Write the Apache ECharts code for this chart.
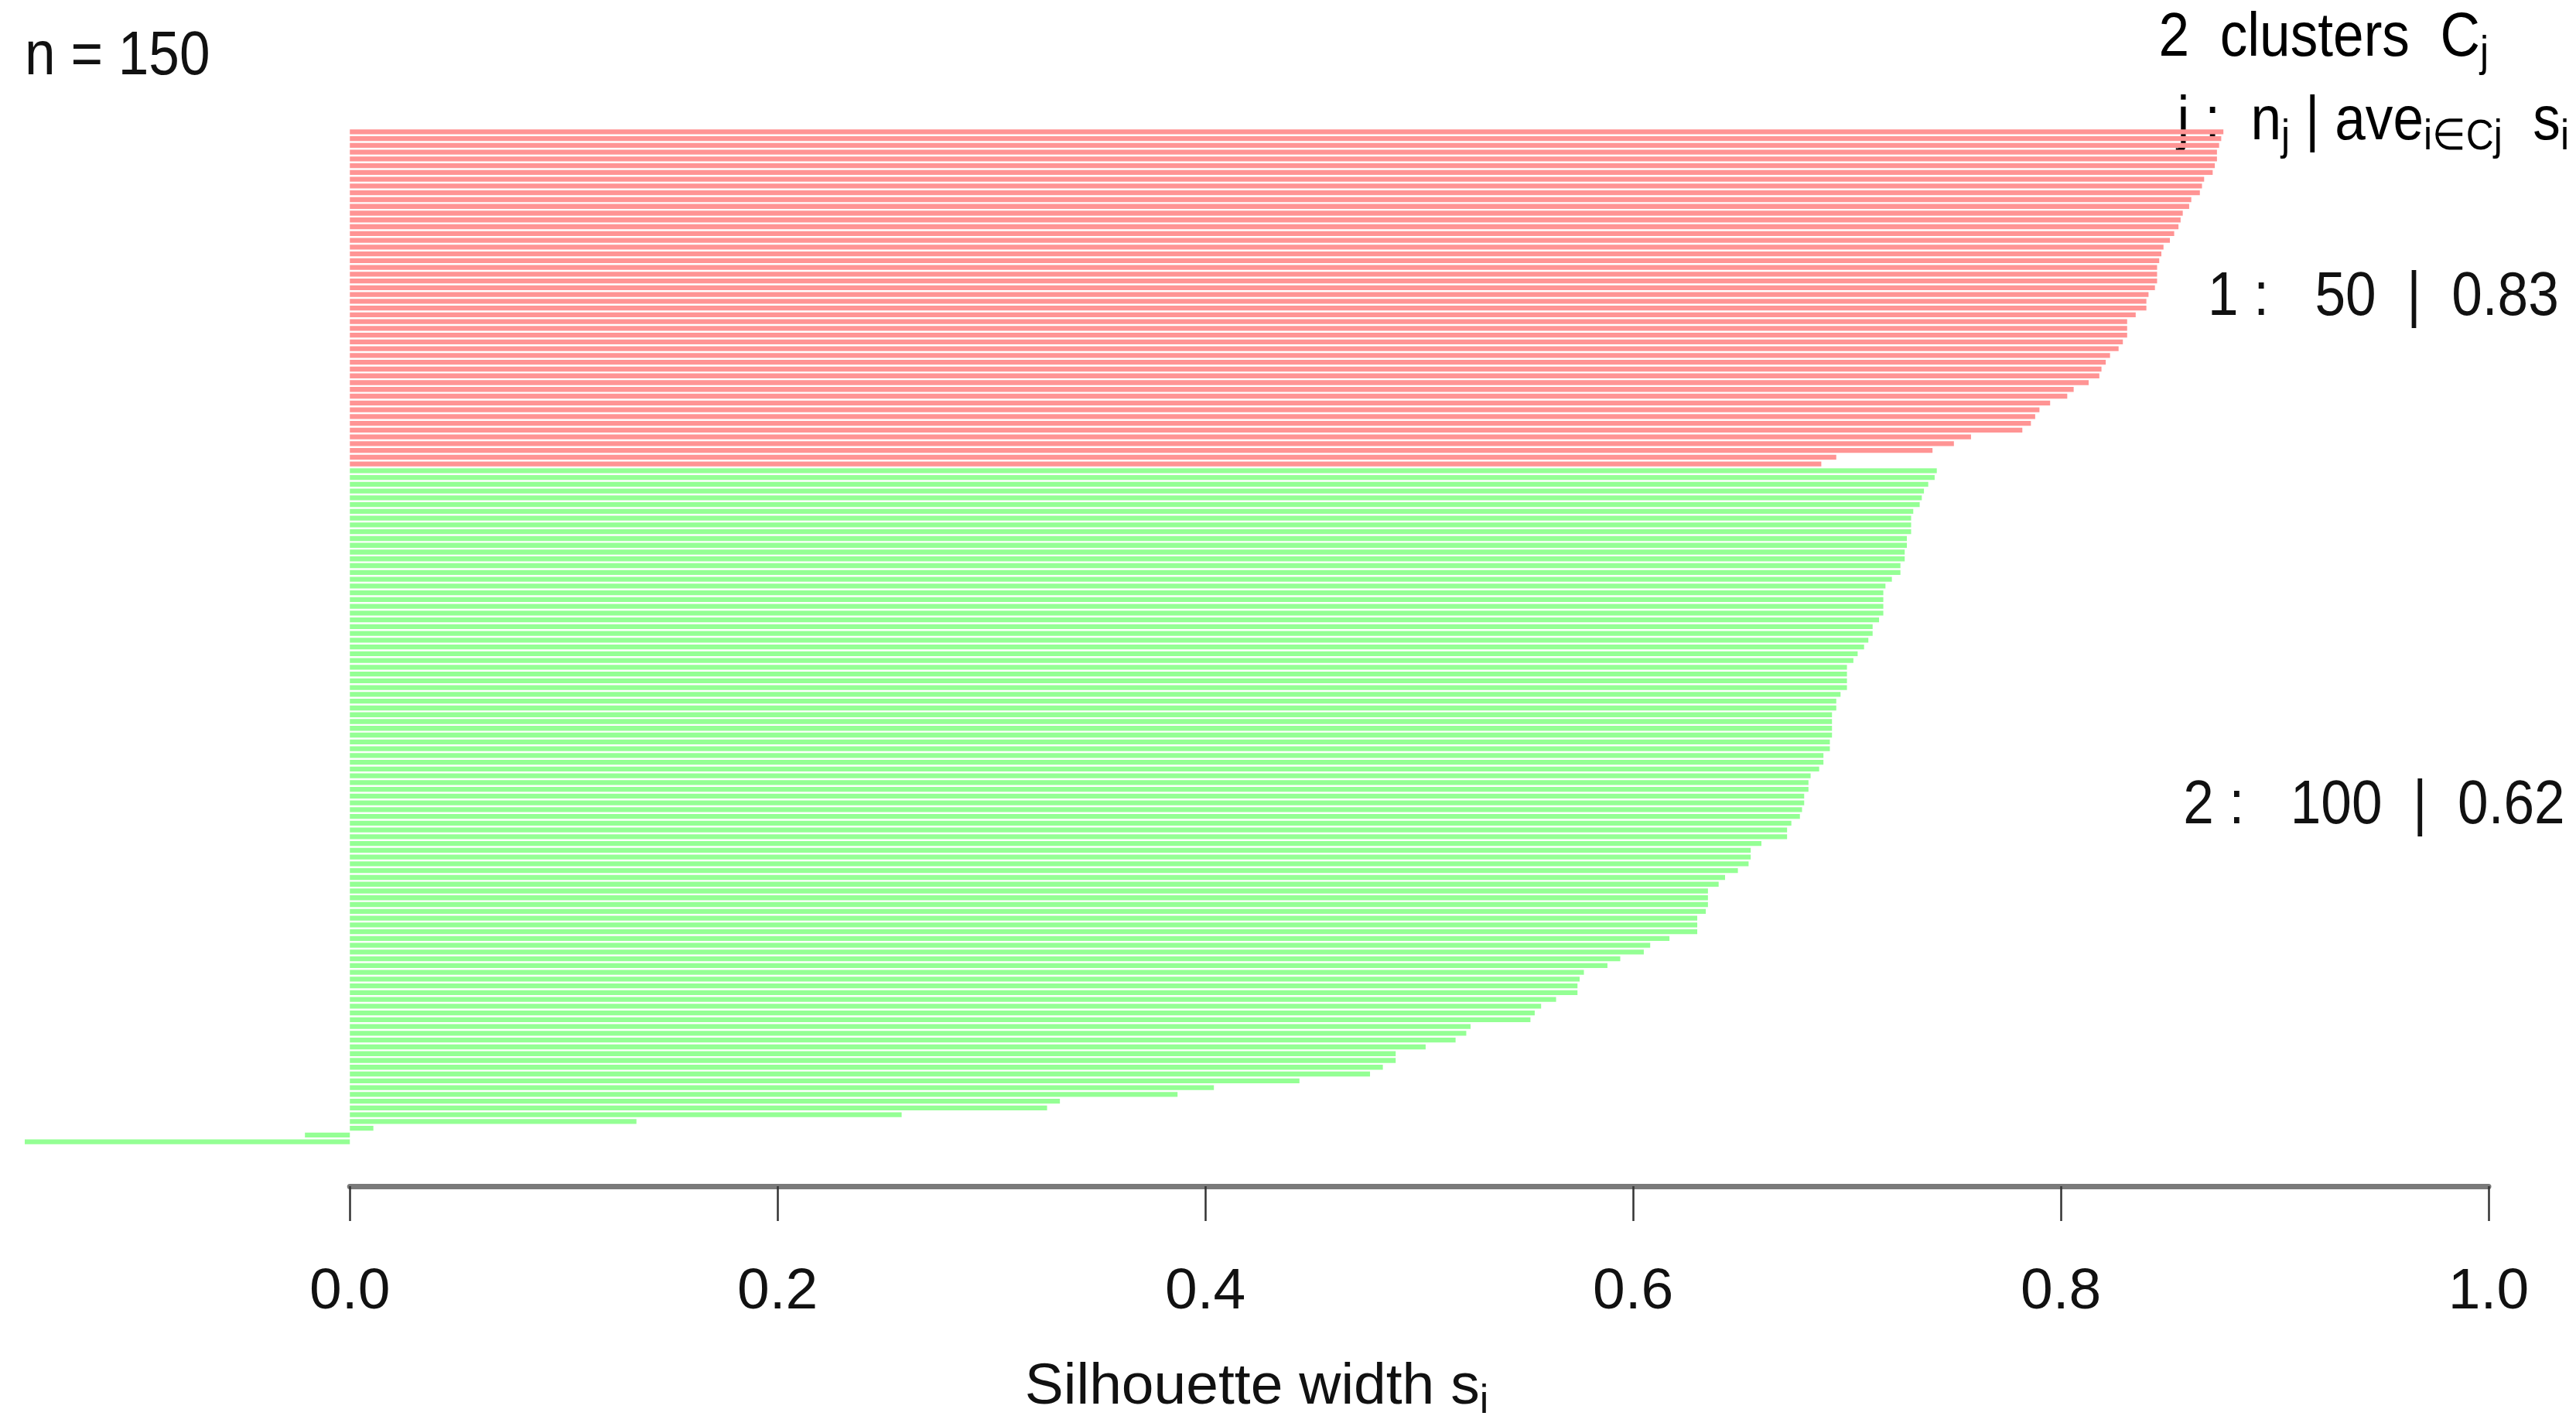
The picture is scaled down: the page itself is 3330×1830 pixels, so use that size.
<!DOCTYPE html>
<html>
<head>
<meta charset="utf-8">
<title>Silhouette plot</title>
<script src="https://cdn.jsdelivr.net/npm/echarts@6/dist/echarts.min.js"></script>
<style>
  html, body { margin: 0; padding: 0; background: #fff; }
  #chart { width: 3330px; height: 1830px; }
</style>
</head>
<body>
<div id="chart"></div>
<script>
// silhouette widths s(i), sorted inside each cluster, top to bottom
const cluster1 = [
  0.876, 0.875, 0.874, 0.873, 0.873, 0.872, 0.871, 0.867, 0.866, 0.865,
  0.861, 0.860, 0.857, 0.856, 0.855, 0.853, 0.851, 0.848, 0.847, 0.846,
  0.845, 0.845, 0.845, 0.844, 0.841, 0.840, 0.840, 0.835, 0.831, 0.831,
  0.831, 0.829, 0.827, 0.823, 0.821, 0.819, 0.818, 0.813, 0.806, 0.803,
  0.795, 0.790, 0.788, 0.786, 0.782, 0.758, 0.750, 0.740, 0.695, 0.688
]
const cluster2 = [
  0.742, 0.741, 0.738, 0.736, 0.735, 0.734, 0.731, 0.730, 0.730, 0.730,
  0.728, 0.728, 0.727, 0.727, 0.725, 0.725, 0.721, 0.718, 0.717, 0.717,
  0.717, 0.717, 0.715, 0.712, 0.712, 0.710, 0.708, 0.705, 0.703, 0.700,
  0.700, 0.700, 0.700, 0.697, 0.695, 0.695, 0.693, 0.693, 0.693, 0.693,
  0.692, 0.692, 0.689, 0.689, 0.687, 0.683, 0.682, 0.682, 0.680, 0.680,
  0.679, 0.678, 0.674, 0.672, 0.672, 0.660, 0.655, 0.655, 0.654, 0.649,
  0.643, 0.640, 0.635, 0.635, 0.635, 0.634, 0.630, 0.630, 0.630, 0.617,
  0.608, 0.605, 0.594, 0.588, 0.577, 0.575, 0.574, 0.574, 0.564, 0.557,
  0.554, 0.552, 0.524, 0.522, 0.517, 0.503, 0.489, 0.489, 0.483, 0.477,
  0.444, 0.404, 0.387, 0.332, 0.326, 0.258, 0.134, 0.011, -0.021, -0.152
]
const xTicks = [0, 0.2, 0.4, 0.6, 0.8, 1.0]
const clusterColors = ['#ff9494', '#94ff94']

const clusters = [cluster1, cluster2]
const n = cluster1.length + cluster2.length
const categories = []
for (let i = 1; i <= n; i++) categories.push(String(i))
const series1 = cluster1.concat(cluster2.map(() => null))
const series2 = cluster1.map(() => null).concat(cluster2)
const xMin = Math.min(0, ...cluster1, ...cluster2)
const mean = arr => arr.reduce((a, b) => a + b, 0) / arr.length

const FONT = '"Liberation Sans", Arial, sans-serif'
const FS = 80      // annotation text
const AXIS_FS = 75 // tick labels and axis title
const SUB = 56
const SX = 0.89

// plot region (pixels)
const plotLeft = 32
const plotRight = 3217
const plotTop = 166
const plotBottom = 1480
const zeroX = plotLeft + (0 - xMin) / (1 - xMin) * (plotRight - plotLeft)

const chart = echarts.init(document.getElementById('chart'))

const subRich = {
  m: { fontSize: FS, fontFamily: FONT, color: '#111' },
  s: { fontSize: SUB, fontFamily: FONT, color: '#111', padding: [40, 0, 0, 0] }
}

chart.setOption({
  animation: false,
  backgroundColor: '#fff',
  grid: [
    {
      left: plotLeft, right: 3330 - plotRight, top: plotTop, bottom: 1830 - plotBottom,
      outerBoundsMode: 'none'
    },
    {
      left: zeroX, right: 3330 - plotRight, top: 1500, height: 33,
      outerBoundsMode: 'none'
    }
  ],
  xAxis: [
    {
      gridIndex: 0,
      type: 'value',
      min: xMin,
      max: 1,
      axisLine: { show: false },
      axisTick: { show: false },
      axisLabel: { show: false },
      splitLine: { show: false },
      name: '{m|Silhouette width s}{s|i}',
      nameLocation: 'middle',
      nameGap: 268,
      nameTextStyle: {
        rich: {
          m: { fontSize: AXIS_FS, fontFamily: FONT, color: '#111' },
          s: { fontSize: 52, fontFamily: FONT, color: '#111', padding: [38, 0, 0, 0] }
        }
      }
    },
    {
      gridIndex: 1,
      type: 'value',
      min: 0,
      max: 1,
      interval: 0.2,
      axisLine: { show: true, onZero: false, lineStyle: { color: '#7a7a7a', width: 7 } },
      axisTick: { show: true, length: 45, customValues: xTicks, lineStyle: { color: '#333', width: 2.5 } },
      axisLabel: {
        margin: 100,
        customValues: xTicks,
        fontSize: AXIS_FS,
        fontFamily: FONT,
        color: '#111',
        formatter: v => Number(v).toFixed(1)
      },
      splitLine: { show: false }
    }
  ],
  yAxis: [
    {
      gridIndex: 0,
      type: 'category',
      data: categories,
      inverse: true,
      show: false
    },
    {
      gridIndex: 1,
      type: 'value',
      min: 0,
      max: 1,
      show: false
    }
  ],
  series: [
    {
      name: 'cluster 1',
      type: 'bar',
      stack: 'sil',
      xAxisIndex: 0,
      yAxisIndex: 0,
      barCategoryGap: '28%',
      itemStyle: { color: clusterColors[0] },
      data: series1
    },
    {
      name: 'cluster 2',
      type: 'bar',
      stack: 'sil',
      xAxisIndex: 0,
      yAxisIndex: 0,
      barCategoryGap: '28%',
      itemStyle: { color: clusterColors[1] },
      data: series2
    }
  ]
})

// text annotations
const measure = (text, font) => {
  const ctx = document.createElement('canvas').getContext('2d')
  ctx.font = font
  return ctx.measureText(text).width
}

const graphics = [
  {
    type: 'text',
    x: plotLeft,
    y: 74,
    scaleX: SX,
    style: {
      text: 'n = ' + n,
      fontSize: FS,
      fontFamily: FONT,
      fill: '#111',
      align: 'left',
      verticalAlign: 'middle'
    }
  },
  {
    type: 'text',
    x: plotRight,
    y: 50,
    scaleX: SX,
    style: {
      text: '{m|' + clusters.length + '  clusters  C}{s|j}',
      rich: subRich,
      align: 'right',
      verticalAlign: 'middle'
    }
  },
  {
    type: 'text',
    x: 3321,
    y: 158,
    scaleX: SX,
    style: {
      text: '{m|j :  n}{s|j}{m| | ave}{s|i\u2208Cj}{m|  s}{s|i}',
      rich: subRich,
      align: 'right',
      verticalAlign: 'middle'
    }
  }
]

let start = 0
clusters.forEach((values, j) => {
  const first = chart.convertToPixel({ gridIndex: 0 }, [1, start])
  const last = chart.convertToPixel({ gridIndex: 0 }, [1, start + values.length - 1])
  const label = (j + 1) + ' :   ' + values.length + '  |  ' + mean(values).toFixed(2)
  const w = measure(label, FS + 'px ' + FONT) * SX
  graphics.push({
    type: 'text',
    x: first[0] - 0.8 * w,
    y: (first[1] + last[1]) / 2,
    scaleX: SX,
    style: {
      text: label,
      fontSize: FS,
      fontFamily: FONT,
      fill: '#111',
      align: 'left',
      verticalAlign: 'middle'
    }
  })
  start += values.length
})

chart.setOption({ graphic: graphics })

window.addEventListener('resize', () => chart.resize())
</script>
</body>
</html>
